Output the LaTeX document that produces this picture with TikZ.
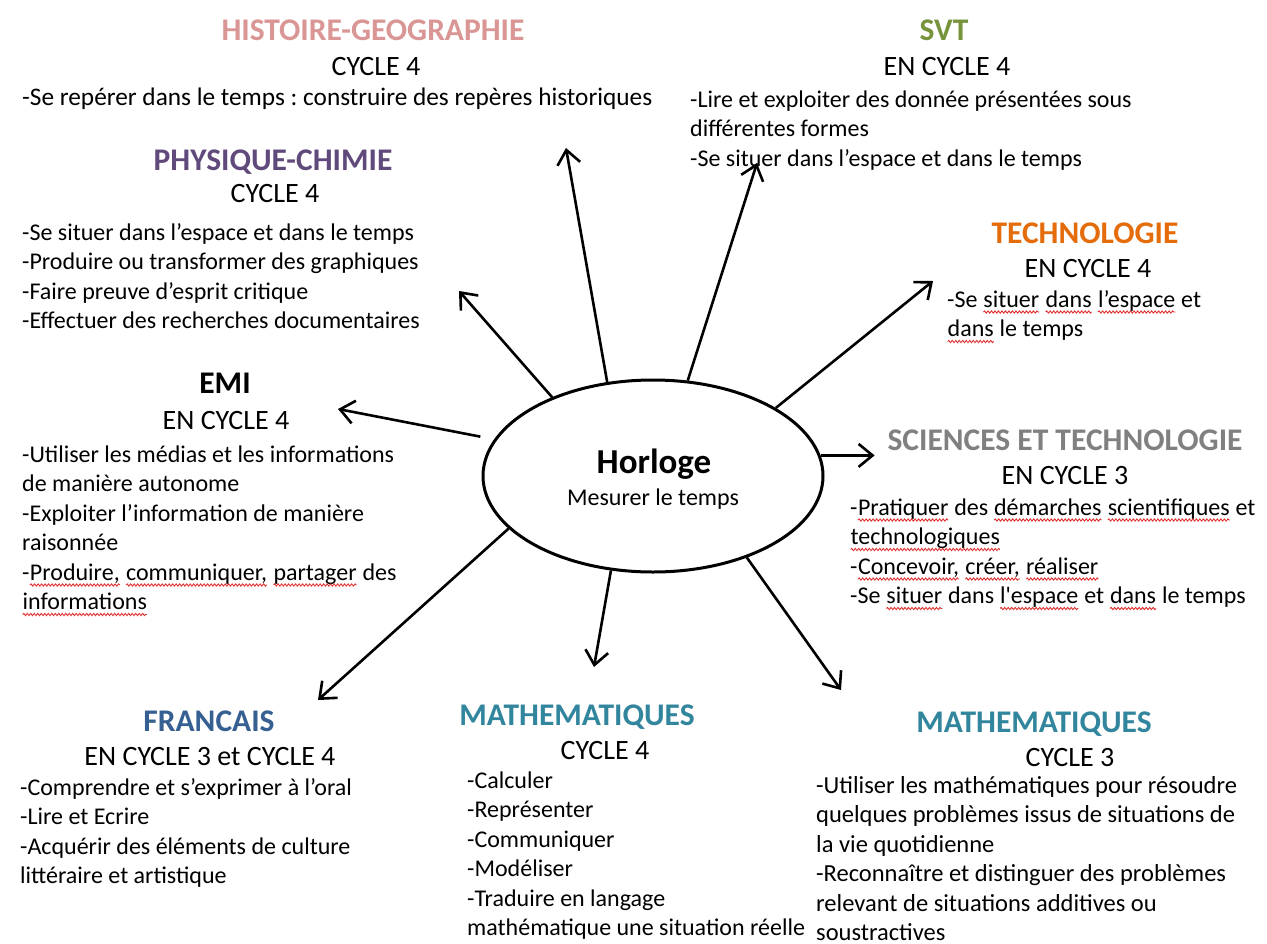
\documentclass[tikz,border=0pt]{standalone}
\usepackage{fontspec}
\setmainfont{Carlito}
\usetikzlibrary{arrows.meta,decorations.pathmorphing,shapes.geometric}
\definecolor{histc}{HTML}{D99694}
\definecolor{svtc}{HTML}{77933C}
\definecolor{physc}{HTML}{604A7B}
\definecolor{techc}{HTML}{E46C0A}
\definecolor{scic}{HTML}{808080}
\definecolor{frc}{HTML}{376092}
\definecolor{mathc}{HTML}{31859C}
\definecolor{wavec}{HTML}{E03030}
\frenchspacing
\newcommand\rw[1]{\tikz[baseline=(w.base)]{\node[inner sep=0pt, outer sep=0pt, anchor=base, draw=none] (w) {#1};
  \draw[wavec, line width=0.9pt, decorate, decoration={snake, amplitude=1.1pt, segment length=3.5pt}] ([yshift=-5pt]w.base west) -- ([yshift=-5pt]w.base east);}}
\newcommand\blk[1]{\begin{tabular}[t]{@{}l@{}}#1\end{tabular}}
\tikzset{
  bodytext/.style={anchor=base west, inner sep=0pt, font=\fontsize{24}{29.5}\selectfont},
  hdrtext/.style={anchor=base, inner sep=0pt, font=\fontsize{28}{33}\selectfont},
  ttltext/.style={anchor=base, inner sep=0pt, font=\fontsize{31.5}{37}\selectfont\bfseries},
  arr/.style={line width=2.6pt, -{Straight Barb[length=14pt,width=23pt,line join=miter]}},
  hubshape/.style={ellipse, draw, line width=3pt, minimum width=340pt, minimum height=192pt, inner sep=0pt}
}
\begin{document}
\begin{tikzpicture}[x=1pt,y=-1pt]
\fill[white] (0,0) rectangle (1267,943);
\useasboundingbox (0,0) rectangle (1267,943);

% central node
\node[hubshape] (hub) at (653,476) {};
\node[anchor=base, inner sep=0pt, font=\fontsize{35}{40}\selectfont\bfseries] (hubt) at (654,473) {Horloge};
\node[anchor=base, inner sep=0pt, font=\fontsize{24}{29}\selectfont] (hubs) at (653,505) {Mesurer le temps};

% HISTOIRE-GEOGRAPHIE
\node[ttltext, text=histc] (histT) at (373,40) {HISTOIRE-GEOGRAPHIE};
\node[hdrtext] (histH) at (376,75) {CYCLE 4};
\node[bodytext, font=\fontsize{25.3}{30}\selectfont] (histB) at (22,105) {\blk{-Se repérer dans le temps : construire des repères historiques}};

% SVT
\node[ttltext, text=svtc] (svtT) at (944,40) {SVT};
\node[hdrtext] (svtH) at (947,75) {EN CYCLE 4};
\node[bodytext] (svtB) at (690,107) {\blk{-Lire et exploiter des donnée présentées sous\\différentes formes\\-Se situer dans l’espace et dans le temps}};

% PHYSIQUE-CHIMIE
\node[ttltext, text=physc] (phyT) at (273,170) {PHYSIQUE-CHIMIE};
\node[hdrtext] (phyH) at (275,202) {CYCLE 4};
\node[bodytext] (phyB) at (22,240) {\blk{-Se situer dans l’espace et dans le temps\\-Produire ou transformer des graphiques\\-Faire preuve d’esprit critique\\-Effectuer des recherches documentaires}};

% TECHNOLOGIE
\node[ttltext, text=techc] (tecT) at (1085,243) {TECHNOLOGIE};
\node[hdrtext] (tecH) at (1088,277) {EN CYCLE 4};
\node[bodytext] (tecB) at (947,307) {\blk{-Se \rw{situer} \rw{dans} \rw{l’espace} et\\\rw{dans} le temps}};

% EMI
\node[ttltext] (emiT) at (225,393) {EMI};
\node[hdrtext] (emiH) at (226,429) {EN CYCLE 4};
\node[bodytext] (emiB) at (22,462) {\blk{-Utiliser les médias et les informations\\de manière autonome\\-Exploiter l’information de manière\\raisonnée\\-\rw{Produire,} \rw{communiquer,} \rw{partager} des\\\rw{informations}}};

% SCIENCES ET TECHNOLOGIE
\node[ttltext, text=scic] (sciT) at (1065,450) {SCIENCES ET TECHNOLOGIE};
\node[hdrtext] (sciH) at (1065,484) {EN CYCLE 3};
\node[bodytext] (sciB) at (850,515) {\blk{-\rw{Pratiquer} des \rw{démarches} \rw{scientifiques} et\\\rw{technologiques}\\-\rw{Concevoir,} \rw{créer,} \rw{réaliser}\\-Se \rw{situer} dans \rw{l\textquotesingle espace} et \rw{dans} le temps}};

% FRANCAIS
\node[ttltext, text=frc] (frT) at (209,731) {FRANCAIS};
\node[hdrtext] (frH) at (210,765) {EN CYCLE 3 et CYCLE 4};
\node[bodytext] (frB) at (20,795) {\blk{-Comprendre et s’exprimer à l’oral\\-Lire et Ecrire\\-Acquérir des éléments de culture\\littéraire et artistique}};

% MATHEMATIQUES cycle 4
\node[ttltext, text=mathc] (m4T) at (577,725) {MATHEMATIQUES};
\node[hdrtext] (m4H) at (605,759) {CYCLE 4};
\node[bodytext] (m4B) at (467,788) {\blk{-Calculer\\-Représenter\\-Communiquer\\-Modéliser\\-Traduire en langage\\mathématique une situation réelle}};

% MATHEMATIQUES cycle 3
\node[ttltext, text=mathc] (m3T) at (1034,732) {MATHEMATIQUES};
\node[hdrtext] (m3H) at (1070,766) {CYCLE 3};
\node[bodytext, font=\fontsize{24.5}{29.5}\selectfont] (m3B) at (816,793) {\blk{-Utiliser les mathématiques pour résoudre\\quelques problèmes issus de situations de\\la vie quotidienne\\-Reconnaître et distinguer des problèmes\\relevant de situations additives ou\\soustractives}};

% arrow tips
\coordinate (tHist) at (566,148);
\coordinate (tSvt) at (757,163);
\coordinate (tPhy) at (459,291);
\coordinate (tTec) at (933,281);
\coordinate (tEmi) at (338,409);
\coordinate (tSci) at ([xshift=54pt]hub.7);
\coordinate (tFr) at (318,700);
\coordinate (tM4) at (594,667);
\coordinate (tM3) at (841,690);

\draw[arr] (hub.116) -- (tHist);
\draw[arr] (hub.70.5) -- (tSvt);
\draw[arr] (hub.142) -- (tPhy);
\draw[arr] (hub.29.4) -- (tTec);
\draw[arr, shorten <=14pt] (hub.167) -- (tEmi);
\draw[arr] (hub.7) -- (tSci);
\draw[arr] (hub.200.5) -- (tFr);
\draw[arr] (hub.246.4) -- (tM4);
\draw[arr] (hub.319.4) -- (tM3);
\end{tikzpicture}
\end{document}
